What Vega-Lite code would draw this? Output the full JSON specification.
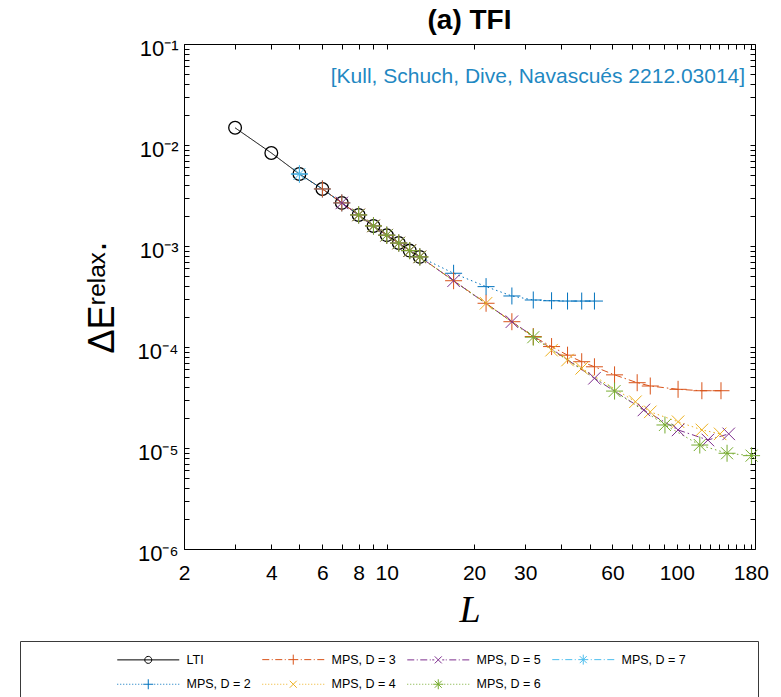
{
  "$schema": "https://vega.github.io/schema/vega-lite/v6.json",
  "width": 571,
  "height": 505,
  "autosize": {"type": "none"},
  "padding": {"left": 184, "top": 44, "right": 26, "bottom": 148},
  "background": "white",
  "config": {
    "view": {"stroke": null},
    "font": "Liberation Sans",
    "axis": {"domainColor": "black", "tickColor": "black", "labelColor": "black", "titleColor": "black", "grid": false, "domainWidth": 1, "tickWidth": 1}
  },
  "title": {"text": "(a) TFI", "fontSize": 28, "fontWeight": "bold", "font": "Liberation Sans", "anchor": "middle", "frame": "group", "offset": 2, "color": "black"},
  "data": {"values": [
    {"series": "LTI", "L": 3, "E": 0.0148},
    {"series": "LTI", "L": 4, "E": 0.00834},
    {"series": "LTI", "L": 5, "E": 0.00516},
    {"series": "LTI", "L": 6, "E": 0.00367},
    {"series": "LTI", "L": 7, "E": 0.00267},
    {"series": "LTI", "L": 8, "E": 0.00203},
    {"series": "LTI", "L": 9, "E": 0.00158},
    {"series": "LTI", "L": 10, "E": 0.00128},
    {"series": "LTI", "L": 11, "E": 0.00107},
    {"series": "LTI", "L": 12, "E": 0.00090},
    {"series": "LTI", "L": 13, "E": 0.00078},
    {"series": "MPS, D = 2", "L": 5, "E": 0.00516},
    {"series": "MPS, D = 2", "L": 6, "E": 0.00367},
    {"series": "MPS, D = 2", "L": 7, "E": 0.00267},
    {"series": "MPS, D = 2", "L": 8, "E": 0.00203},
    {"series": "MPS, D = 2", "L": 9, "E": 0.00158},
    {"series": "MPS, D = 2", "L": 10, "E": 0.00128},
    {"series": "MPS, D = 2", "L": 11, "E": 0.00107},
    {"series": "MPS, D = 2", "L": 12, "E": 0.00090},
    {"series": "MPS, D = 2", "L": 13, "E": 0.00078},
    {"series": "MPS, D = 2", "L": 17, "E": 0.000537},
    {"series": "MPS, D = 2", "L": 22, "E": 0.000396},
    {"series": "MPS, D = 2", "L": 27, "E": 0.00032},
    {"series": "MPS, D = 2", "L": 32, "E": 0.000292},
    {"series": "MPS, D = 2", "L": 37, "E": 0.000287},
    {"series": "MPS, D = 2", "L": 42, "E": 0.000285},
    {"series": "MPS, D = 2", "L": 47, "E": 0.000285},
    {"series": "MPS, D = 2", "L": 52, "E": 0.000285},
    {"series": "MPS, D = 3", "L": 6, "E": 0.00367},
    {"series": "MPS, D = 3", "L": 7, "E": 0.00267},
    {"series": "MPS, D = 3", "L": 8, "E": 0.00203},
    {"series": "MPS, D = 3", "L": 9, "E": 0.00158},
    {"series": "MPS, D = 3", "L": 10, "E": 0.00128},
    {"series": "MPS, D = 3", "L": 11, "E": 0.00107},
    {"series": "MPS, D = 3", "L": 12, "E": 0.00090},
    {"series": "MPS, D = 3", "L": 13, "E": 0.00078},
    {"series": "MPS, D = 3", "L": 17, "E": 0.000453},
    {"series": "MPS, D = 3", "L": 22, "E": 0.000271},
    {"series": "MPS, D = 3", "L": 27, "E": 0.000178},
    {"series": "MPS, D = 3", "L": 32, "E": 0.000127},
    {"series": "MPS, D = 3", "L": 37, "E": 0.000101},
    {"series": "MPS, D = 3", "L": 42, "E": 0.000083},
    {"series": "MPS, D = 3", "L": 47, "E": 0.0000715},
    {"series": "MPS, D = 3", "L": 52, "E": 0.0000637},
    {"series": "MPS, D = 3", "L": 61, "E": 0.000053},
    {"series": "MPS, D = 3", "L": 73, "E": 0.0000443},
    {"series": "MPS, D = 3", "L": 81, "E": 0.0000411},
    {"series": "MPS, D = 3", "L": 101, "E": 0.0000381},
    {"series": "MPS, D = 3", "L": 122, "E": 0.0000369},
    {"series": "MPS, D = 3", "L": 142, "E": 0.0000369},
    {"series": "MPS, D = 4", "L": 8, "E": 0.00203},
    {"series": "MPS, D = 4", "L": 9, "E": 0.00158},
    {"series": "MPS, D = 4", "L": 10, "E": 0.00128},
    {"series": "MPS, D = 4", "L": 11, "E": 0.00107},
    {"series": "MPS, D = 4", "L": 12, "E": 0.00090},
    {"series": "MPS, D = 4", "L": 13, "E": 0.00078},
    {"series": "MPS, D = 4", "L": 22, "E": 0.000271},
    {"series": "MPS, D = 4", "L": 37, "E": 0.000093},
    {"series": "MPS, D = 4", "L": 42, "E": 0.0000743},
    {"series": "MPS, D = 4", "L": 47, "E": 0.0000615},
    {"series": "MPS, D = 4", "L": 72, "E": 0.0000287},
    {"series": "MPS, D = 4", "L": 81, "E": 0.0000228},
    {"series": "MPS, D = 4", "L": 101, "E": 0.0000182},
    {"series": "MPS, D = 4", "L": 122, "E": 0.0000151},
    {"series": "MPS, D = 4", "L": 141, "E": 0.0000138},
    {"series": "MPS, D = 5", "L": 7, "E": 0.00267},
    {"series": "MPS, D = 5", "L": 8, "E": 0.00203},
    {"series": "MPS, D = 5", "L": 9, "E": 0.00158},
    {"series": "MPS, D = 5", "L": 10, "E": 0.00128},
    {"series": "MPS, D = 5", "L": 11, "E": 0.00107},
    {"series": "MPS, D = 5", "L": 12, "E": 0.00090},
    {"series": "MPS, D = 5", "L": 13, "E": 0.00078},
    {"series": "MPS, D = 5", "L": 17, "E": 0.000453},
    {"series": "MPS, D = 5", "L": 27, "E": 0.000178},
    {"series": "MPS, D = 5", "L": 52, "E": 0.000049},
    {"series": "MPS, D = 5", "L": 77, "E": 0.0000238},
    {"series": "MPS, D = 5", "L": 101, "E": 0.0000151},
    {"series": "MPS, D = 5", "L": 128, "E": 0.000012},
    {"series": "MPS, D = 5", "L": 151, "E": 0.0000138},
    {"series": "MPS, D = 6", "L": 8, "E": 0.00203},
    {"series": "MPS, D = 6", "L": 9, "E": 0.00158},
    {"series": "MPS, D = 6", "L": 10, "E": 0.00128},
    {"series": "MPS, D = 6", "L": 11, "E": 0.00107},
    {"series": "MPS, D = 6", "L": 12, "E": 0.00090},
    {"series": "MPS, D = 6", "L": 13, "E": 0.00078},
    {"series": "MPS, D = 6", "L": 32, "E": 0.000125},
    {"series": "MPS, D = 6", "L": 61, "E": 0.0000366},
    {"series": "MPS, D = 6", "L": 91, "E": 0.0000169},
    {"series": "MPS, D = 6", "L": 120, "E": 0.0000107},
    {"series": "MPS, D = 6", "L": 149, "E": 0.00000887},
    {"series": "MPS, D = 6", "L": 181, "E": 0.0000084},
    {"series": "MPS, D = 7", "L": 5, "E": 0.00516}
  ]},
  "layer": [
    {
      "mark": {"type": "line", "strokeWidth": 1},
      "encoding": {
        "x": {"field": "L", "type": "quantitative", "scale": {"type": "log", "domain": [2, 186], "nice": false},
          "axis": {"orient": "top", "labels": false, "title": null, "tickSize": -5, "values": [2,3,4,5,6,7,8,9,10,20,30,40,50,60,70,80,90,100,110,120,130,140,150,160,170,180]}},
        "y": {"field": "E", "type": "quantitative", "scale": {"type": "log", "domain": [1e-6, 0.1], "nice": false},
          "axis": {"orient": "right", "labels": false, "title": null, "tickSize": -5, "values": [1e-6,2e-6,3e-6,4e-6,5e-6,6e-6,7e-6,8e-6,9e-6,1e-5,2e-5,3e-5,4e-5,5e-5,6e-5,7e-5,8e-5,9e-5,1e-4,2e-4,3e-4,4e-4,5e-4,6e-4,7e-4,8e-4,9e-4,0.001,0.002,0.003,0.004,0.005,0.006,0.007,0.008,0.009,0.01,0.02,0.03,0.04,0.05,0.06,0.07,0.08,0.09,0.1]}},
        "color": {"field": "series", "type": "nominal", "legend": null,
          "scale": {"domain": ["LTI","MPS, D = 2","MPS, D = 3","MPS, D = 4","MPS, D = 5","MPS, D = 6","MPS, D = 7"],
                    "range": ["#000000","#0072BD","#D95319","#EDB120","#7E2F8E","#77AC30","#4DBEEE"]}},
        "strokeDash": {"field": "series", "type": "nominal", "legend": null,
          "scale": {"domain": ["LTI","MPS, D = 2","MPS, D = 3","MPS, D = 4","MPS, D = 5","MPS, D = 6","MPS, D = 7"],
                    "range": [[1,0],[1.5,3],[7,3,1.5,3],[1.5,3],[7,3,1.5,3],[1.5,3],[7,3,1.5,3]]}},
        "strokeWidth": {"condition": {"test": "datum.series === 'LTI'", "value": 1.4}, "value": 1}
      }
    },
    {
      "mark": {"type": "point", "filled": false, "size": 100, "opacity": 1},
      "encoding": {
        "x": {"field": "L", "type": "quantitative", "scale": {"type": "log", "domain": [2, 186], "nice": false},
          "axis": {"orient": "bottom", "title": "L", "titleFont": "Liberation Serif", "titleFontStyle": "italic", "titleFontWeight": "normal", "titleFontSize": 38, "titlePadding": 8,
            "tickSize": -5, "labelPadding": 18, "labelFontSize": 21, "labelFlush": false, "labelOverlap": false, "labelBound": false, "format": "d",
            "values": [2,3,4,5,6,7,8,9,10,20,30,40,50,60,70,80,90,100,110,120,130,140,150,160,170,180],
            "labelExpr": "indexof([2,4,6,8,10,20,30,60,100,180], datum.value) >= 0 ? datum.label : ''"}},
        "y": {"field": "E", "type": "quantitative", "scale": {"type": "log", "domain": [1e-6, 0.1], "nice": false},
          "axis": {"orient": "left", "title": "ΔEʳᵉˡᵃˣ·", "titleFontSize": 36, "titleFontWeight": "normal", "titlePadding": 16,
            "tickSize": -5, "labelPadding": 11, "labelOffset": 4, "labelFontSize": 22, "labelFlush": false, "labelOverlap": false, "labelBound": false,
            "values": [1e-6,2e-6,3e-6,4e-6,5e-6,6e-6,7e-6,8e-6,9e-6,1e-5,2e-5,3e-5,4e-5,5e-5,6e-5,7e-5,8e-5,9e-5,1e-4,2e-4,3e-4,4e-4,5e-4,6e-4,7e-4,8e-4,9e-4,0.001,0.002,0.003,0.004,0.005,0.006,0.007,0.008,0.009,0.01,0.02,0.03,0.04,0.05,0.06,0.07,0.08,0.09,0.1],
            "labelExpr": "abs(log(datum.value)/LN10 - round(log(datum.value)/LN10)) < 0.001 ? '10⁻' + ['','¹','²','³','⁴','⁵','⁶'][-round(log(datum.value)/LN10)] : ''"}},
        "color": {"field": "series", "type": "nominal", "legend": null,
          "scale": {"domain": ["LTI","MPS, D = 2","MPS, D = 3","MPS, D = 4","MPS, D = 5","MPS, D = 6","MPS, D = 7"],
                    "range": ["#000000","#0072BD","#D95319","#EDB120","#7E2F8E","#77AC30","#4DBEEE"]}},
        "shape": {"field": "series", "type": "nominal", "legend": null,
          "scale": {"domain": ["LTI","MPS, D = 2","MPS, D = 3","MPS, D = 4","MPS, D = 5","MPS, D = 6","MPS, D = 7"],
                    "range": ["M1.27,0A1.27,1.27,0,1,1,-1.27,0A1.27,1.27,0,1,1,1.27,0", "M-1.7,0H1.7M0,-1.7V1.7", "M-1.7,0H1.7M0,-1.7V1.7", "M-1.25,-1.25L1.25,1.25M-1.25,1.25L1.25,-1.25", "M-1.25,-1.25L1.25,1.25M-1.25,1.25L1.25,-1.25", "M-1.7,0H1.7M0,-1.7V1.7M-1.2,-1.2L1.2,1.2M-1.2,1.2L1.2,-1.2", "M-1.7,0H1.7M0,-1.7V1.7M-1.2,-1.2L1.2,1.2M-1.2,1.2L1.2,-1.2"]}},
        "strokeWidth": {"condition": {"test": "datum.series === 'LTI'", "value": 1.3}, "value": 1}
      }
    },
    {
      "data": {"values": [{"note": "[Kull, Schuch, Dive, Navascués 2212.03014]"}]},
      "mark": {"type": "text", "align": "right", "baseline": "middle", "fontSize": 21, "font": "Liberation Sans", "color": "#1f88c2"},
      "encoding": {
        "x": {"datum": 172, "type": "quantitative", "axis": null},
        "y": {"datum": 0.047, "type": "quantitative", "axis": null},
        "text": {"field": "note"}
      }
    },
    {
      "data": {"values": []},
      "mark": {"type": "point", "filled": false, "size": 100, "strokeWidth": 1, "opacity": 1},
      "encoding": {
        "color": {"field": "series", "type": "nominal",
          "scale": {"domain": ["LTI","MPS, D = 2","MPS, D = 3","MPS, D = 4","MPS, D = 5","MPS, D = 6","MPS, D = 7"],
                    "range": ["#000000","#0072BD","#D95319","#EDB120","#7E2F8E","#77AC30","#4DBEEE"]},
          "legend": {
            "title": "\u00a0", "titleOrient": "left", "titlePadding": 110, "titleFontSize": 12,
            "orient": "none", "legendX": -164, "legendY": 597,
            "columns": 4, "columnPadding": 9, "rowPadding": 10, "gridAlign": "each",
            "symbolSize": 100, "symbolStrokeWidth": 1, "labelOffset": 32,
            "labelFontSize": 12.5, "labelFont": "Liberation Sans", "labelColor": "black", "labelLimit": 400,
            "padding": 12, "strokeColor": "#3a3a3a", "fillColor": "white",
            "labelExpr": "datum.label == 'MPS, D = 7' ? datum.label + '\u2800\u2800\u2800\u2800\u2800\u2800' : datum.label"
          }},
        "shape": {"field": "series", "type": "nominal",
          "scale": {"domain": ["LTI","MPS, D = 2","MPS, D = 3","MPS, D = 4","MPS, D = 5","MPS, D = 6","MPS, D = 7"],
                    "range": [
                      "M-6.2,0H6.2M0.7,0A0.7,0.7,0,1,1,-0.7,0A0.7,0.7,0,1,1,0.7,0",
                      "M-6.2,0H-6M-5.6,0H-5.4M-5,0H-4.8M-4.4,0H-4.2M-3.8,0H-3.6M-3.2,0H-3M-2.6,0H-2.4M-2,0H-1.8M-1.4,0H-1.2M1.2,0H1.4M1.8,0H2M2.4,0H2.6M3,0H3.2M3.6,0H3.8M4.2,0H4.4M4.8,0H5M5.4,0H5.6M6,0H6.2M-1,0H1M0,-1V1",
                      "M-6.2,0H-4.8M-4.3,0H-4.1M-3.6,0H-2.2M-1.7,0H-1.5M1.5,0H1.7M2.2,0H3.6M4.1,0H4.3M4.8,0H6.2M-1,0H1M0,-1V1",
                      "M-6.2,0H-6M-5.6,0H-5.4M-5,0H-4.8M-4.4,0H-4.2M-3.8,0H-3.6M-3.2,0H-3M-2.6,0H-2.4M-2,0H-1.8M-1.4,0H-1.2M1.2,0H1.4M1.8,0H2M2.4,0H2.6M3,0H3.2M3.6,0H3.8M4.2,0H4.4M4.8,0H5M5.4,0H5.6M6,0H6.2M-0.7,-0.7L0.7,0.7M-0.7,0.7L0.7,-0.7",
                      "M-6.2,0H-4.8M-4.3,0H-4.1M-3.6,0H-2.2M-1.7,0H-1.5M1.5,0H1.7M2.2,0H3.6M4.1,0H4.3M4.8,0H6.2M-0.7,-0.7L0.7,0.7M-0.7,0.7L0.7,-0.7M-1.2,0H-0.8M0.8,0H1.2",
                      "M-6.2,0H-6M-5.6,0H-5.4M-5,0H-4.8M-4.4,0H-4.2M-3.8,0H-3.6M-3.2,0H-3M-2.6,0H-2.4M-2,0H-1.8M-1.4,0H-1.2M1.2,0H1.4M1.8,0H2M2.4,0H2.6M3,0H3.2M3.6,0H3.8M4.2,0H4.4M4.8,0H5M5.4,0H5.6M6,0H6.2M-1,0H1M0,-1V1M-0.7,-0.7L0.7,0.7M-0.7,0.7L0.7,-0.7",
                      "M-6.2,0H-4.8M-4.3,0H-4.1M-3.6,0H-2.2M-1.7,0H-1.5M1.5,0H1.7M2.2,0H3.6M4.1,0H4.3M4.8,0H6.2M-1,0H1M0,-1V1M-0.7,-0.7L0.7,0.7M-0.7,0.7L0.7,-0.7"
                    ]},
          "legend": {
            "title": "\u00a0", "titleOrient": "left", "titlePadding": 110, "titleFontSize": 12,
            "orient": "none", "legendX": -164, "legendY": 597,
            "columns": 4, "columnPadding": 9, "rowPadding": 10, "gridAlign": "each",
            "symbolSize": 100, "symbolStrokeWidth": 1, "labelOffset": 32,
            "labelFontSize": 12.5, "labelFont": "Liberation Sans", "labelColor": "black", "labelLimit": 400,
            "padding": 12, "strokeColor": "#3a3a3a", "fillColor": "white",
            "labelExpr": "datum.label == 'MPS, D = 7' ? datum.label + '\u2800\u2800\u2800\u2800\u2800\u2800' : datum.label"
          }}
      }
    }
  ],
  "resolve": {"axis": {"x": "independent", "y": "independent"}, "scale": {"shape": "independent"}, "legend": {"color": "independent"}}
}
